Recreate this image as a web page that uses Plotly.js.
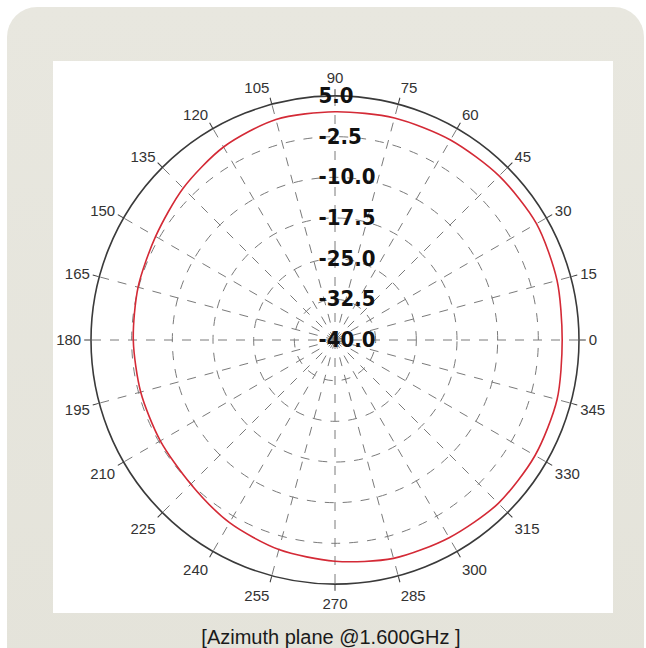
<!DOCTYPE html>
<html>
<head>
<meta charset="utf-8">
<script src="https://cdn.plot.ly/plotly-3.0.1.min.js"></script>
<style>
  html, body { margin: 0; padding: 0; background: #ffffff; width: 646px; height: 648px; overflow: hidden; }
  #frame { position: absolute; left: 7px; top: 7px; width: 637px; height: 680px; border-radius: 30px;
           background: linear-gradient(180deg, #e8e7df 0%, #e4e3da 100%); }
  #panel { position: absolute; left: 53px; top: 61px; width: 560px; height: 552px; background: #ffffff; }
  #chart { position: absolute; left: 0; top: 0; width: 646px; height: 648px; }
</style>
</head>
<body>
<div id="frame"></div>
<div id="panel"></div>
<div id="chart"></div>
<script>
// Azimuth angle (deg) and measured gain (dB)
const angles = [0, 15, 30, 45, 60, 75, 90, 105, 120, 135, 150, 165, 180, 195, 210, 225, 240, 255, 270, 285, 300, 315, 330, 345, 360];
const gainDb = [1.9, 2.4, 2.9, 2.8, 2.6, 2.4, 2.1, 2.1, 1.1, -0.4, -1.8, -2.4, -2.8, -2.9, -2.8, -2.4, -1.1, 0.0, 0.8, 1.7, 2.1, 2.6, 2.6, 2.4, 1.9];

// Axis ticks
const angleTicks = [0, 15, 30, 45, 60, 75, 90, 105, 120, 135, 150, 165, 180, 195, 210, 225, 240, 255, 270, 285, 300, 315, 330, 345];
const angleTickText = angleTicks.map(String);
const radialTicks = [5, -2.5, -10, -17.5, -25, -32.5, -40];
const radialTickText = ["5.0", "-2.5", "-10.0", "-17.5", "-25.0", "-32.5", "-40.0"];
const radialRange = [-40, 5];
const captionText = "[Azimuth plane @1.600GHz ]";

const W = 646, H = 648;
const cx = 335, cy = 340, R = 244;
const labelShift = 17; // radial labels sit slightly left of the 90° line

const gridDom = { x: [(cx - R) / W, (cx + R) / W], y: [(H - cy - R) / H, (H - cy + R) / H] };
const labelDom = { x: [(cx - labelShift - R) / W, (cx - labelShift + R) / W], y: gridDom.y };

const trace = {
  type: "scatterpolar",
  mode: "lines",
  r: gainDb,
  theta: angles,
  line: { color: "#d42a36", width: 1.6, shape: "spline", smoothing: 0.8 },
  hoverinfo: "skip",
  showlegend: false,
  subplot: "polar"
};

// empty trace so the label-only polar subplot is drawn
const labelHolder = {
  type: "scatterpolar",
  mode: "lines",
  r: [],
  theta: [],
  hoverinfo: "skip",
  showlegend: false,
  subplot: "polar2"
};

const radialFont = { family: "DejaVu Sans Condensed, Liberation Sans Narrow, Arial Narrow, sans-serif", size: 22, color: "#111111", weight: "bold" };

const layout = {
  width: W, height: H,
  margin: { l: 0, r: 0, t: 0, b: 0 },
  paper_bgcolor: "rgba(0,0,0,0)",
  plot_bgcolor: "rgba(0,0,0,0)",
  showlegend: false,
  title: {
    text: captionText,
    x: 331 / W, xanchor: "center", xref: "paper",
    y: 1 - 637 / H, yanchor: "middle", yref: "paper",
    font: { family: "Liberation Sans, Arial, sans-serif", size: 20, color: "#1a1a1a" }
  },
  polar: {
    domain: gridDom,
    bgcolor: "rgba(0,0,0,0)",
    angularaxis: {
      rotation: 0,
      direction: "counterclockwise",
      tickmode: "array",
      tickvals: angleTicks,
      ticktext: angleTickText,
      showline: true,
      linecolor: "#3a3a3a",
      linewidth: 1.6,
      showgrid: true,
      gridcolor: "#7a7a7a",
      griddash: "dash",
      gridwidth: 1,
      ticks: "outside",
      ticklen: 6,
      tickcolor: "#3a3a3a",
      tickfont: { family: "Liberation Sans, Arial, sans-serif", size: 15, color: "#333333" }
    },
    radialaxis: {
      range: radialRange,
      angle: 90,
      tickmode: "array",
      tickvals: radialTicks,
      showticklabels: false,
      showline: false,
      ticks: "",
      showgrid: true,
      gridcolor: "#7a7a7a",
      griddash: "dash",
      gridwidth: 1
    }
  },
  polar2: {
    domain: labelDom,
    bgcolor: "rgba(0,0,0,0)",
    angularaxis: {
      rotation: 0,
      direction: "counterclockwise",
      showline: false, showgrid: false, showticklabels: false, ticks: ""
    },
    radialaxis: {
      range: radialRange,
      angle: 90,
      side: "clockwise",
      tickangle: 90,
      tickmode: "array",
      tickvals: radialTicks,
      ticktext: radialTickText,
      showline: false,
      showgrid: false,
      ticks: "",
      tickfont: radialFont
    }
  }
};

Plotly.newPlot("chart", [trace, labelHolder], layout, { staticPlot: true, displayModeBar: false });
</script>
</body>
</html>
